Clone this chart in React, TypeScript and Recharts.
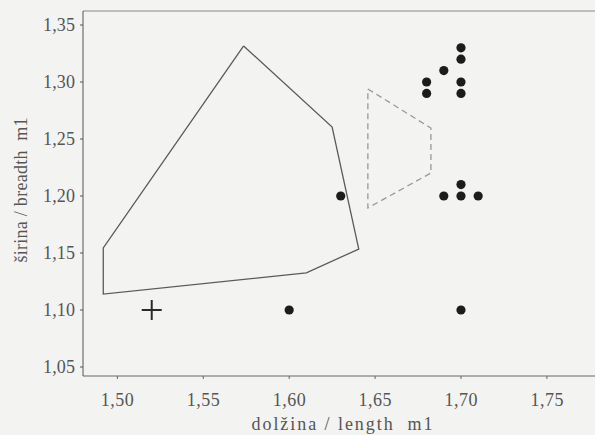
import React from "react";
import { ScatterChart, Scatter, XAxis, YAxis, ReferenceLine, Label } from "recharts";

// convex hull of the solid group (length, breadth)
const solidHull = [
  { x: 1.5735, y: 1.3316 },
  { x: 1.625, y: 1.2605 },
  { x: 1.6405, y: 1.1535 },
  { x: 1.61, y: 1.1325 },
  { x: 1.4918, y: 1.114 },
  { x: 1.4918, y: 1.1544 },
  { x: 1.5735, y: 1.3316 },
];

// dashed hull
const dashedHull = [
  { x: 1.6458, y: 1.2939 },
  { x: 1.6825, y: 1.2596 },
  { x: 1.6825, y: 1.2202 },
  { x: 1.6458, y: 1.1895 },
  { x: 1.6458, y: 1.2939 },
];

const dots = [
  { x: 1.6, y: 1.1 },
  { x: 1.63, y: 1.2 },
  { x: 1.68, y: 1.3 },
  { x: 1.68, y: 1.29 },
  { x: 1.69, y: 1.31 },
  { x: 1.7, y: 1.33 },
  { x: 1.7, y: 1.32 },
  { x: 1.7, y: 1.3 },
  { x: 1.7, y: 1.29 },
  { x: 1.69, y: 1.2 },
  { x: 1.7, y: 1.21 },
  { x: 1.7, y: 1.2 },
  { x: 1.71, y: 1.2 },
  { x: 1.7, y: 1.1 },
];

const cross = [{ x: 1.52, y: 1.1 }];

const xTicks = [1.5, 1.55, 1.6, 1.65, 1.7, 1.75];
const yTicks = [1.05, 1.1, 1.15, 1.2, 1.25, 1.3, 1.35];

const fmt = (v: number) => v.toFixed(2).replace(".", ",");
const FONT = "Liberation Serif, Times New Roman, serif";
const TEXT = "#555";
const txtStyle = { fontFamily: FONT, whiteSpace: "pre" as const };

const XTick = (props: any) => {
  const { x, y, payload } = props;
  return (
    <text x={x} y={y + 25} textAnchor="middle" fontSize={18} style={txtStyle} fill={TEXT} textLength={33} lengthAdjust="spacing">
      {fmt(payload.value)}
    </text>
  );
};

const YTick = (props: any) => {
  const { y, payload } = props;
  return (
    <text x={75} y={y + 6} textAnchor="end" fontSize={18} style={txtStyle} fill={TEXT} textLength={32} lengthAdjust="spacing">
      {fmt(payload.value)}
    </text>
  );
};

const Empty = () => <g />;

const Dot = (props: any) => <circle cx={props.cx} cy={props.cy} r={4.6} fill="#1c1c1c" />;

const Plus = (props: any) => {
  const { cx, cy } = props;
  return (
    <g stroke="#2a2a2a" strokeWidth={2}>
      <line x1={cx - 10} y1={cy} x2={cx + 10} y2={cy} />
      <line x1={cx} y1={cy - 10} x2={cx} y2={cy + 10} />
    </g>
  );
};

export default function App() {
  return (
    <div style={{ position: "absolute", left: 0, top: 0, width: 595, height: 435, background: "#f3f3f1" }}>
      <ScatterChart width={595} height={435} margin={{ top: 11, right: 0, bottom: 0, left: 0 }}>
        <XAxis
          type="number"
          dataKey="x"
          domain={[1.48, 1.778]}
          ticks={xTicks}
          allowDataOverflow
          height={59}
          stroke="#666"
          tickSize={3}
          tick={<XTick />}
        >
          <Label
            content={() => (
              <text
                x={342}
                y={430}
                textAnchor="middle"
                fontSize={18}
                style={txtStyle}
                fill={TEXT}
                textLength={181}
                lengthAdjust="spacing"
              >
                dolžina / length  m1
              </text>
            )}
          />
        </XAxis>
        <YAxis
          type="number"
          dataKey="y"
          domain={[1.0421, 1.3623]}
          ticks={yTicks}
          allowDataOverflow
          width={83}
          stroke="#555"
          tickSize={3}
          tick={<YTick />}
        >
          <Label
            content={() => (
              <text
                x={27}
                y={190}
                transform="rotate(-90 27 190)"
                textAnchor="middle"
                fontSize={18}
                style={txtStyle}
                fill={TEXT}
                textLength={145}
                lengthAdjust="spacing"
              >
                širina / breadth  m1
              </text>
            )}
          />
        </YAxis>
        <ReferenceLine y={1.3623} stroke="#888" strokeWidth={1} />
        <Scatter
          data={solidHull}
          line={{ stroke: "#5a5a5a", strokeWidth: 1.3 }}
          lineJointType="linear"
          shape={<Empty />}
          isAnimationActive={false}
        />
        <Scatter
          data={dashedHull}
          line={{ stroke: "#999", strokeWidth: 1.3, strokeDasharray: "6 4" }}
          lineJointType="linear"
          shape={<Empty />}
          isAnimationActive={false}
        />
        <Scatter data={dots} shape={<Dot />} isAnimationActive={false} />
        <Scatter data={cross} shape={<Plus />} isAnimationActive={false} />
      </ScatterChart>
    </div>
  );
}
